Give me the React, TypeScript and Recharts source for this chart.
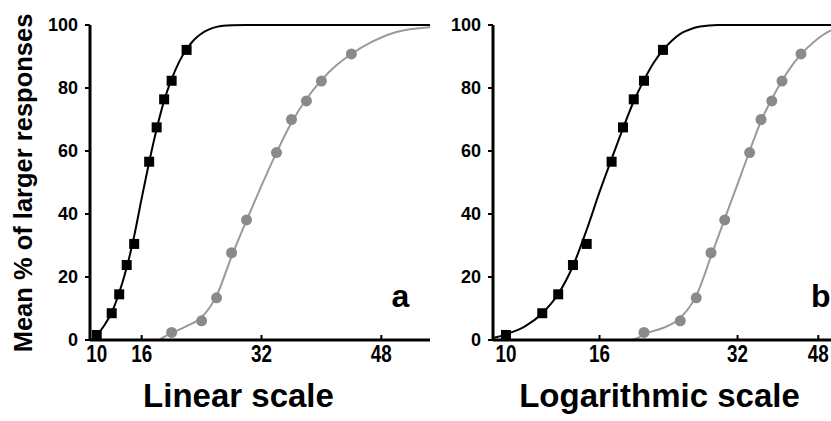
import React from "react";
import { ComposedChart, Line, Scatter, XAxis, YAxis } from "recharts";

// stimulus values and mean % of "larger" responses
const blackX = [10, 12, 13, 14, 15, 17, 18, 19, 20, 22];
const blackY = [1.6, 8.5, 14.5, 23.8, 30.5, 56.6, 67.5, 76.4, 82.3, 92.1];
const grayX = [20, 24, 26, 28, 30, 34, 36, 38, 40, 44];
const grayY = [2.4, 6.1, 13.4, 27.7, 38.1, 59.5, 70, 75.9, 82.2, 90.8];

// fitted curves
const linBlackFitX = [9.4, 10, 11, 12, 13, 14, 15, 16, 17, 18, 19, 20, 21, 22, 23, 24, 25, 26, 28, 30, 54.5];
const linBlackFitY = [0, 1.5, 4.6, 8.8, 15, 23, 33, 45, 56.5, 67, 76, 82.8, 88.3, 92.3, 95.3, 97.3, 98.6, 99.4, 99.9, 100, 100];
const linGrayFitX = [18.3, 19, 20, 22, 24, 26, 28, 30, 32, 34, 36, 38, 40, 42, 44, 46.8, 49.5, 52, 54.5];
const linGrayFitY = [0, 1, 2.2, 4.4, 7.2, 14, 26.5, 38, 49, 59.5, 69, 76.5, 82.5, 87.2, 90.8, 94.7, 97.4, 98.7, 99.3];

const logBlackFitX = [9.37, 10, 11, 12, 13, 14, 15, 16, 17, 18, 19, 20, 21, 22, 23, 24, 25, 26.5, 29, 56];
const logBlackFitY = [0.6, 1.8, 4.3, 8.5, 14.6, 23.5, 35, 47, 57.5, 67.2, 75.8, 82.5, 88, 92, 95, 97.2, 98.4, 99.5, 100, 100];
const logGrayFitX = [18.8, 19.5, 20, 22, 24, 26, 28, 30, 32, 34, 36, 38, 40, 42, 44, 47, 51, 56];
const logGrayFitY = [0, 0.8, 1.8, 3.8, 7, 14, 26.5, 38.5, 49.5, 60, 69.5, 76.5, 82.3, 87, 90.7, 94.7, 98.2, 99.6];

const xTicks = [10, 16, 32, 48];
const yTicks = [0, 20, 40, 60, 80, 100];

const FONT = "'Liberation Sans', Arial, Helvetica, sans-serif";

const pts = (xs: number[], ys: number[]) => xs.map((x, i) => ({ x, y: ys[i] }));

const SquareDot = (props: any) => {
    const { cx, cy } = props;
    if (cx == null || cy == null) return null;
    return <rect x={cx - 5} y={cy - 5} width={10} height={10} fill="#000" />;
};

const RoundDot = (props: any) => {
    const { cx, cy } = props;
    if (cx == null || cy == null) return null;
    return <circle cx={cx} cy={cy} r={5.5} fill="#8a8a8a" />;
};

const XTick = (props: any) => {
    const { x, y, payload } = props;
    const axisY = y - 4;
    return (
        <g>
            <line x1={x} x2={x} y1={axisY} y2={axisY - 5} stroke="#000" strokeWidth={2} />
            <text
                transform={`translate(${x},${axisY + 22}) scale(0.82,1)`}
                textAnchor="middle"
                fontFamily={FONT}
                fontWeight="bold"
                fontSize={23}
                fill="#000"
            >
                {payload.value}
            </text>
        </g>
    );
};

interface PanelProps {
    left: number;
    width: number;
    yAxisWidth: number;
    domain: [number, number];
    log?: boolean;
    blackFit: { x: number; y: number }[];
    grayFit: { x: number; y: number }[];
}

function Panel({ left, width, yAxisWidth, domain, log, blackFit, grayFit }: PanelProps) {
    return (
        <div style={{ position: "absolute", left, top: 0 }}>
            <ComposedChart width={width} height={421} margin={{ top: 25, right: 10, bottom: 51, left: 0 }}>
                <XAxis
                    type="number"
                    dataKey="x"
                    scale={log ? "log" : "linear"}
                    domain={domain}
                    ticks={xTicks}
                    allowDataOverflow
                    height={30}
                    tickSize={0}
                    tickMargin={4}
                    tickLine={false}
                    axisLine={{ stroke: "#000", strokeWidth: 3 }}
                    tick={<XTick />}
                    interval={0}
                />
                <YAxis
                    type="number"
                    domain={[0, 100]}
                    ticks={yTicks}
                    width={yAxisWidth}
                    tickSize={5}
                    tickMargin={7}
                    tickLine={{ stroke: "#000", strokeWidth: 2 }}
                    axisLine={{ stroke: "#000", strokeWidth: 3 }}
                    tick={{ fill: "#000", fontSize: 18, fontWeight: "bold", fontFamily: FONT }}
                    interval={0}
                />
                <Line data={grayFit} dataKey="y" type="monotone" stroke="#9a9a9a" strokeWidth={2} dot={false} isAnimationActive={false} />
                <Line data={blackFit} dataKey="y" type="monotone" stroke="#000" strokeWidth={2} dot={false} isAnimationActive={false} />
                <Scatter data={pts(grayX, grayY)} dataKey="y" shape={RoundDot} isAnimationActive={false} />
                <Scatter data={pts(blackX, blackY)} dataKey="y" shape={SquareDot} isAnimationActive={false} />
            </ComposedChart>
        </div>
    );
}

export default function App() {
    return (
        <div style={{ position: "absolute", left: 0, top: 0, width: 831, height: 421, overflow: "hidden", background: "#fff" }}>
            <Panel
                left={0}
                width={440}
                yAxisWidth={90}
                domain={[9.1, 54.5]}
                blackFit={pts(linBlackFitX, linBlackFitY)}
                grayFit={pts(linGrayFitX, linGrayFitY)}
            />
            <Panel
                left={400}
                width={459}
                yAxisWidth={93}
                domain={[9.37, 56]}
                log
                blackFit={pts(logBlackFitX, logBlackFitY)}
                grayFit={pts(logGrayFitX, logGrayFitY)}
            />
            <svg width={831} height={421} style={{ position: "absolute", left: 0, top: 0, pointerEvents: "none" }}>
                <g fontFamily={FONT} fontWeight="bold" fill="#000">
                    <text transform="translate(32,183) rotate(-90)" textAnchor="middle" fontSize={25.5}>
                        Mean % of larger responses
                    </text>
                    <text x={238.5} y={407} textAnchor="middle" fontSize={33}>Linear scale</text>
                    <text x={659.5} y={407} textAnchor="middle" fontSize={33}>Logarithmic scale</text>
                    <text x={391.5} y={307} fontSize={32}>a</text>
                    <text x={811} y={307} fontSize={32}>b</text>
                </g>
            </svg>
        </div>
    );
}
